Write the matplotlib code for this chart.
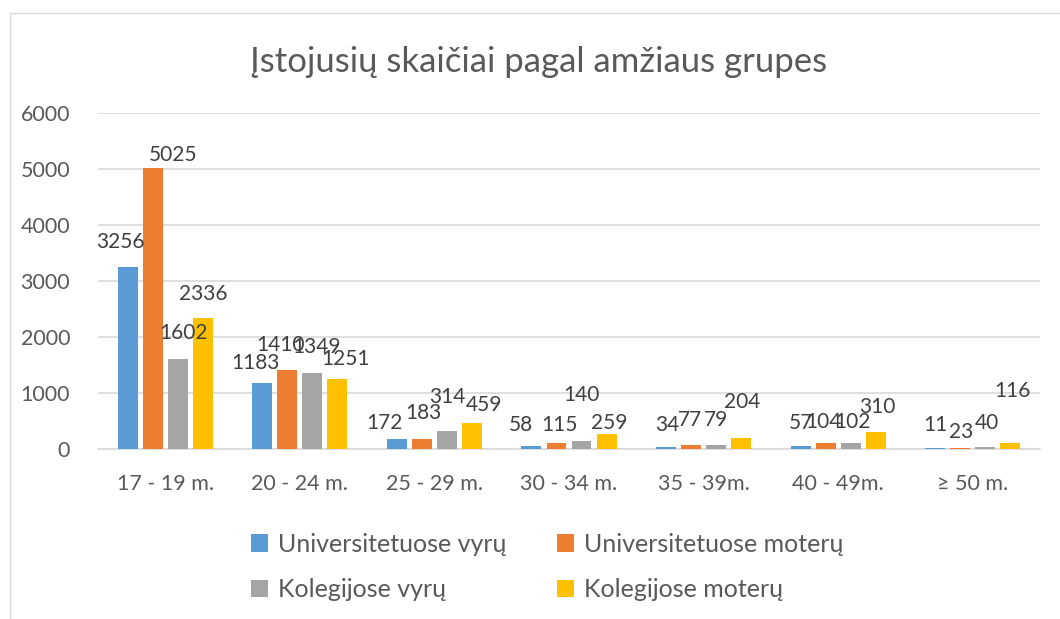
import numpy as np
import matplotlib
matplotlib.use("Agg")
import matplotlib.pyplot as plt
from matplotlib.patches import Rectangle, Patch

# data
groups = ["17 - 19 m.", "20 - 24 m.", "25 - 29 m.", "30 - 34 m.", "35 - 39m.", "40 - 49m.", "≥ 50 m."]
series_names = ["Universitetuose vyrų", "Universitetuose moterų", "Kolegijose vyrų", "Kolegijose moterų"]
uni_men = [3256, 1183, 172, 58, 34, 57, 11]
uni_women = [5025, 1410, 183, 115, 77, 104, 23]
col_men = [1602, 1349, 314, 140, 79, 102, 40]
col_women = [2336, 1251, 459, 259, 204, 310, 116]
y_ticks = [0, 1000, 2000, 3000, 4000, 5000, 6000]

colors = ["#5B9BD5", "#ED7D31", "#A5A5A5", "#FFC000"]

# label offsets (pixels, dx / dy above bar top) - excel put them a bit all over the place
label_offsets = [
    [(-7, 25), (-7, 20), (-12, 16), (-11, 21), (1, 22), (0, 23), (0, 23)],
    [(20, 13), (-7, 25), (1, 26), (3, 18), (-1, 25), (-2, 21), (1, 16)],
    [(6, 26), (4, 26), (0, 34), (0, 46), (0, 25), (2, 21), (2, 24)],
    [(0, 24), (8, 20), (12, 18), (3, 11), (1, 36), (2, 25), (2, 52)],
]

plt.rcParams['font.family'] = ['Lato', 'DejaVu Sans']

fig = plt.figure(figsize=(10.6, 6.19), dpi=100)
fig.patches.append(Rectangle((10 / 1060, -0.1), 1.2, 1 - 13 / 619 + 0.1,
                             transform=fig.transFigure, fill=False,
                             edgecolor="#D9D9D9", linewidth=1))

ax = fig.add_axes([98 / 1060, 1 - 449 / 619, 942 / 1060, 336 / 619])

data = [uni_men, uni_women, col_men, col_women]
x = np.arange(len(groups))
step = 0.186
width = 0.148
for i, vals in enumerate(data):
    pos = x + (i - 1.5) * step
    bars = ax.bar(pos, vals, width=width, color=colors[i], zorder=3,
                  label=series_names[i])
    for j, b in enumerate(bars):
        dx, dy = label_offsets[i][j]
        ax.annotate(str(vals[j]), (b.get_x() + b.get_width() / 2, b.get_height()),
                    xytext=(dx * 0.72, dy * 0.72), textcoords="offset points",
                    ha="center", va="center", fontsize=15, color="#404040",
                    zorder=6)

ax.set_xlim(-0.5, len(groups) - 0.5)
ax.set_ylim(0, 6000)
ax.set_yticks(y_ticks)
ax.set_xticks(x)
ax.set_xticklabels(groups)
ax.grid(axis="y", color="#D9D9D9", linewidth=1.2, zorder=0)
for s in ["top", "right", "left"]:
    ax.spines[s].set_visible(False)
ax.spines["bottom"].set_color("#D9D9D9")
ax.spines["bottom"].set_linewidth(1.2)
ax.tick_params(length=0, labelsize=15.5, labelcolor="#595959")
ax.tick_params(axis="x", pad=18)
ax.tick_params(axis="y", pad=20)

fig.text(539 / 1060, 1 - 62 / 619, "Įstojusių skaičiai pagal amžiaus grupes",
         ha="center", va="center", fontsize=25, color="#595959")

# legend fills by rows in the reference
order = [0, 2, 1, 3]
handles = [Patch(facecolor=colors[k]) for k in order]
fig.legend(handles, [series_names[k] for k in order], loc="center", ncol=2,
           bbox_to_anchor=(547 / 1060, 1 - 567 / 619), frameon=False,
           fontsize=18, handlelength=0.7, handleheight=0.7,
           handletextpad=0.4, labelspacing=0.9, columnspacing=2.0,
           labelcolor="#595959")

plt.savefig("out.png", dpi=100)
